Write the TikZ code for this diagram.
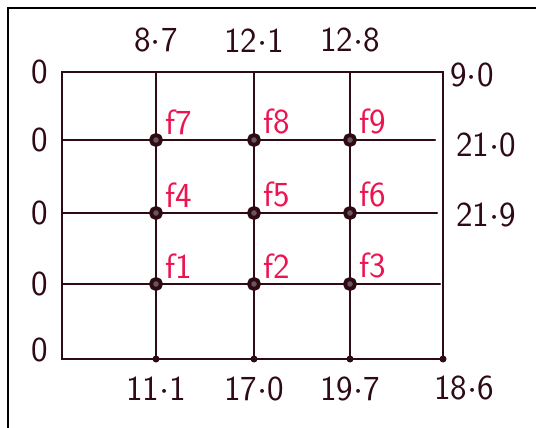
\documentclass[tikz,border=0pt]{standalone}
\usepackage{xcolor}
\usepackage{tikz}
\definecolor{ink}{HTML}{2E0A14}
\definecolor{fred}{HTML}{EC1450}

\begin{document}
\begin{tikzpicture}[x=0.02cm, y=-0.02cm,
    gridline/.style={ink, line width=1.4pt, line cap=round},
    numlbl/.style={font=\sffamily\fontsize{20}{22}\selectfont, text=ink, inner sep=0pt},
    flbl/.style={font=\sffamily\fontsize{20}{22}\selectfont, text=fred, inner sep=0pt}]
    \useasboundingbox (0,0) rectangle (536,428);
    % outer frame
    \draw[black, line width=1.5pt] (8,428) -- (8,8) -- (536,8);
    % grid points
    \foreach \c/\x in {0/62, 1/156, 2/254, 3/350, 4/443}
      \foreach \r/\y in {0/72, 1/140, 2/213, 3/284, 4/359}
        \coordinate (p\c\r) at (\x,\y);
    \coordinate (e1) at (435,140);
    \coordinate (e2) at (437,213);
    \coordinate (e3) at (440,284);
    % lines
    \draw[gridline] (p00) -- (p40) -- (p44) -- (p04) -- cycle;
    \foreach \r in {1,2,3}
      \draw[gridline] (p0\r) -- (e\r);
    \foreach \c in {1,2,3}
      \draw[gridline] (p\c0) -- (p\c4);
    % node dots
    \foreach \c in {1,2,3}
      \foreach \r in {1,2,3}
        \draw[ink, line width=2.2pt, fill=ink!70] (p\c\r) circle (5);
    \foreach \c in {1,2,3,4}
      \fill[ink] (p\c4) circle (3.5);
    % f labels
    \foreach \c/\r/\lbl in {1/1/f7, 2/1/f8, 3/1/f9, 1/2/f4, 2/2/f5, 3/2/f6, 1/3/f1, 2/3/f2, 3/3/f3}
      \node[flbl, anchor=south west] (f\c\r) at ([xshift=5pt, yshift=3pt]p\c\r) {\lbl};
    % top values
    \foreach \c/\v in {1/8$\cdot$7, 2/12$\cdot$1, 3/12$\cdot$8}
      \node[numlbl] (t\c) at ([yshift=18pt]p\c0) {\v};
    % left zeros
    \foreach \r in {0,1,2,3}
      \node[numlbl] (l\r) at ([xshift=-12.5pt]p0\r) {0};
    \node[numlbl] (l4) at ([xshift=-12.5pt, yshift=5pt]p04) {0};
    % right values
    \node[numlbl] (r0) at (472,75) {9$\cdot$0};
    \node[numlbl] (r1) at (486,145) {21$\cdot$0};
    \node[numlbl] (r2) at (486,215) {21$\cdot$9};
    % bottom values
    \foreach \c/\v in {1/11$\cdot$1, 2/17$\cdot$0, 3/19$\cdot$7}
      \node[numlbl] (b\c) at ([yshift=-17pt]p\c4) {\v};
    \node[numlbl] (b4) at (464,388) {18$\cdot$6};
  \end{tikzpicture}
\end{document}
